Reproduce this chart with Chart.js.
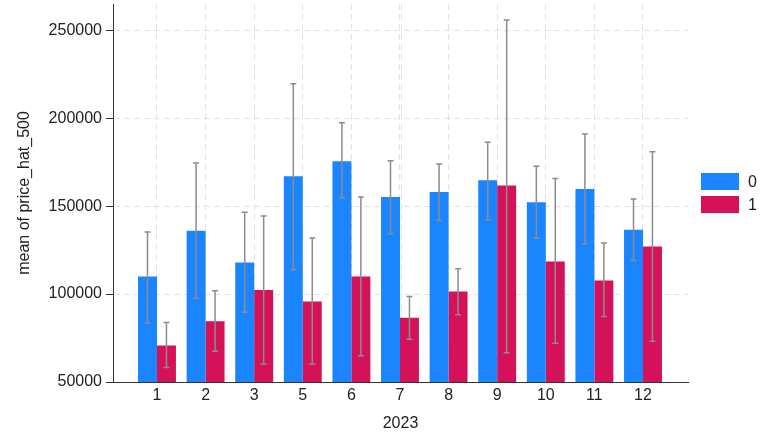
<!DOCTYPE html>
<html>
<head>
<meta charset="utf-8">
<title>mean of price_hat_500 by month, 2023</title>
<script src="https://cdn.jsdelivr.net/npm/chart.js@4.4.1/dist/chart.umd.min.js"></script>
<style>
    body { margin: 0; background: #fff; }
    .wrap { position: relative; width: 763px; height: 438px; }
    .legend { position: absolute; left: 701px; top: 173px; font: 16px "Liberation Sans", Arial, sans-serif; color: #222; }
    .legend-item { display: flex; align-items: center; height: 17px; margin-bottom: 6px; }
    .legend-box { width: 38px; height: 17px; margin-right: 9px; }
</style>
</head>
<body>
<div class="wrap">
    <canvas id="chart" width="763" height="438"></canvas>
    <div class="legend" id="legend"></div>
</div>
<script>
// Data
const months = ['1', '2', '3', '5', '6', '7', '8', '9', '10', '11', '12'];
const groups = ['0', '1'];

const mean0 = [110000, 136000, 118000, 167000, 175500, 155200, 158000, 164800, 152200, 159800, 136600];
const hi0   = [135300, 174600, 146500, 219600, 197400, 175900, 174000, 186400, 172700, 191100, 154100];
const lo0   = [83600, 97700, 89700, 113800, 154700, 134200, 141900, 142300, 131700, 128600, 119100];

const mean1 = [70700, 84600, 102300, 95800, 110000, 86500, 101500, 161700, 118600, 107700, 127100];
const hi1   = [83800, 101900, 144400, 131900, 155200, 98600, 114400, 255900, 165700, 129000, 180900];
const lo1   = [58200, 67500, 60300, 60300, 65000, 74300, 88200, 66700, 72000, 87200, 73200];

const yTicks = [50000, 100000, 150000, 200000, 250000];
// extra vertical grid lines near the ends of the x axis
const xEdgeGrid = [0.444, 11.62];

const colors = ['#1A85FF', '#D41159'];
const fontFamily = '"Liberation Sans", Arial, sans-serif';
const xMin = 0.095;
const xMax = 11.926;

// Bars sit on positions 1..n of a linear axis so the outer margins can match
const toPoints = (vals) => vals.map((v, i) => ({ x: i + 1, y: v }));

// Error bars (caps), drawn from the bar elements and the y scale
const errorBars = {
    id: 'errorBars',
    afterDatasetsDraw(chart) {
        const ctx = chart.ctx;
        const yScale = chart.scales.y;
        const ranges = [[lo0, hi0], [lo1, hi1]];
        ctx.save();
        ctx.strokeStyle = '#8c8c8c';
        ctx.lineWidth = 1.5;
        ranges.forEach((r, d) => {
            const meta = chart.getDatasetMeta(d);
            meta.data.forEach((bar, i) => {
                const yLo = yScale.getPixelForValue(r[0][i]);
                const yHi = yScale.getPixelForValue(r[1][i]);
                ctx.beginPath();
                ctx.moveTo(bar.x, yLo);
                ctx.lineTo(bar.x, yHi);
                ctx.moveTo(bar.x - 3, yLo);
                ctx.lineTo(bar.x + 3, yLo);
                ctx.moveTo(bar.x - 3, yHi);
                ctx.lineTo(bar.x + 3, yHi);
                ctx.stroke();
            });
        });
        ctx.restore();
    }
};

const gridStyle = { color: '#e2e2e2', lineWidth: 1 };

new Chart(document.getElementById('chart'), {
    type: 'bar',
    data: {
        datasets: [
            { label: groups[0], data: toPoints(mean0), backgroundColor: colors[0] },
            { label: groups[1], data: toPoints(mean1), backgroundColor: colors[1] }
        ]
    },
    options: {
        responsive: false,
        animation: false,
        categoryPercentage: 0.78,
        barPercentage: 1.0,
        layout: { padding: { top: 4, right: 75, bottom: 0, left: 0 } },
        plugins: {
            legend: { display: false },
            tooltip: { enabled: false }
        },
        scales: {
            x: {
                type: 'linear',
                offset: false,
                min: xMin,
                max: xMax,
                afterBuildTicks: (scale) => {
                    scale.ticks = months.map((m, i) => ({ value: i + 1 }));
                },
                afterFit: (scale) => { scale.height = 56; },
                ticks: {
                    autoSkip: false,
                    maxRotation: 0,
                    padding: 4,
                    color: '#222',
                    font: { family: fontFamily, size: 16 },
                    callback: (v) => months[v - 1]
                },
                grid: Object.assign({ drawTicks: false, offset: false }, gridStyle),
                border: { display: true, color: '#333', width: 1, dash: [6, 4] },
                title: {
                    display: true,
                    text: '2023',
                    color: '#222',
                    font: { family: fontFamily, size: 16 },
                    padding: { top: 0, bottom: 5 }
                }
            },
            // hidden helper axis: only draws the two edge grid lines
            x2: {
                type: 'linear',
                position: 'bottom',
                offset: false,
                min: xMin,
                max: xMax,
                afterBuildTicks: (scale) => {
                    scale.ticks = xEdgeGrid.map(v => ({ value: v }));
                },
                afterFit: (scale) => { scale.height = 0; },
                ticks: { display: false },
                grid: Object.assign({ drawTicks: false }, gridStyle),
                border: { display: false, dash: [6, 4] }
            },
            y: {
                min: 50000,
                max: 265000,
                afterBuildTicks: (scale) => {
                    scale.ticks = yTicks.map(v => ({ value: v }));
                },
                afterFit: (scale) => {
                    scale.width = 113;
                    scale.paddingTop = 0;
                    scale.paddingBottom = 0;
                },
                ticks: {
                    padding: 4,
                    color: '#222',
                    font: { family: fontFamily, size: 16 },
                    callback: (v) => String(v)
                },
                grid: Object.assign({ tickLength: 7, tickColor: '#333', tickBorderDash: [] }, gridStyle),
                border: { display: true, color: '#333', width: 1, dash: [6, 4] },
                title: {
                    display: true,
                    text: 'mean of price_hat_500',
                    color: '#222',
                    font: { family: fontFamily, size: 16 },
                    padding: { top: 15, bottom: 0 }
                }
            }
        }
    },
    plugins: [errorBars]
});

// Legend on the right
const legend = document.getElementById('legend');
groups.forEach((g, i) => {
    const item = document.createElement('div');
    item.className = 'legend-item';
    item.innerHTML = '<span class="legend-box" style="background:' + colors[i] + '"></span><span>' + g + '</span>';
    legend.appendChild(item);
});
</script>
</body>
</html>
